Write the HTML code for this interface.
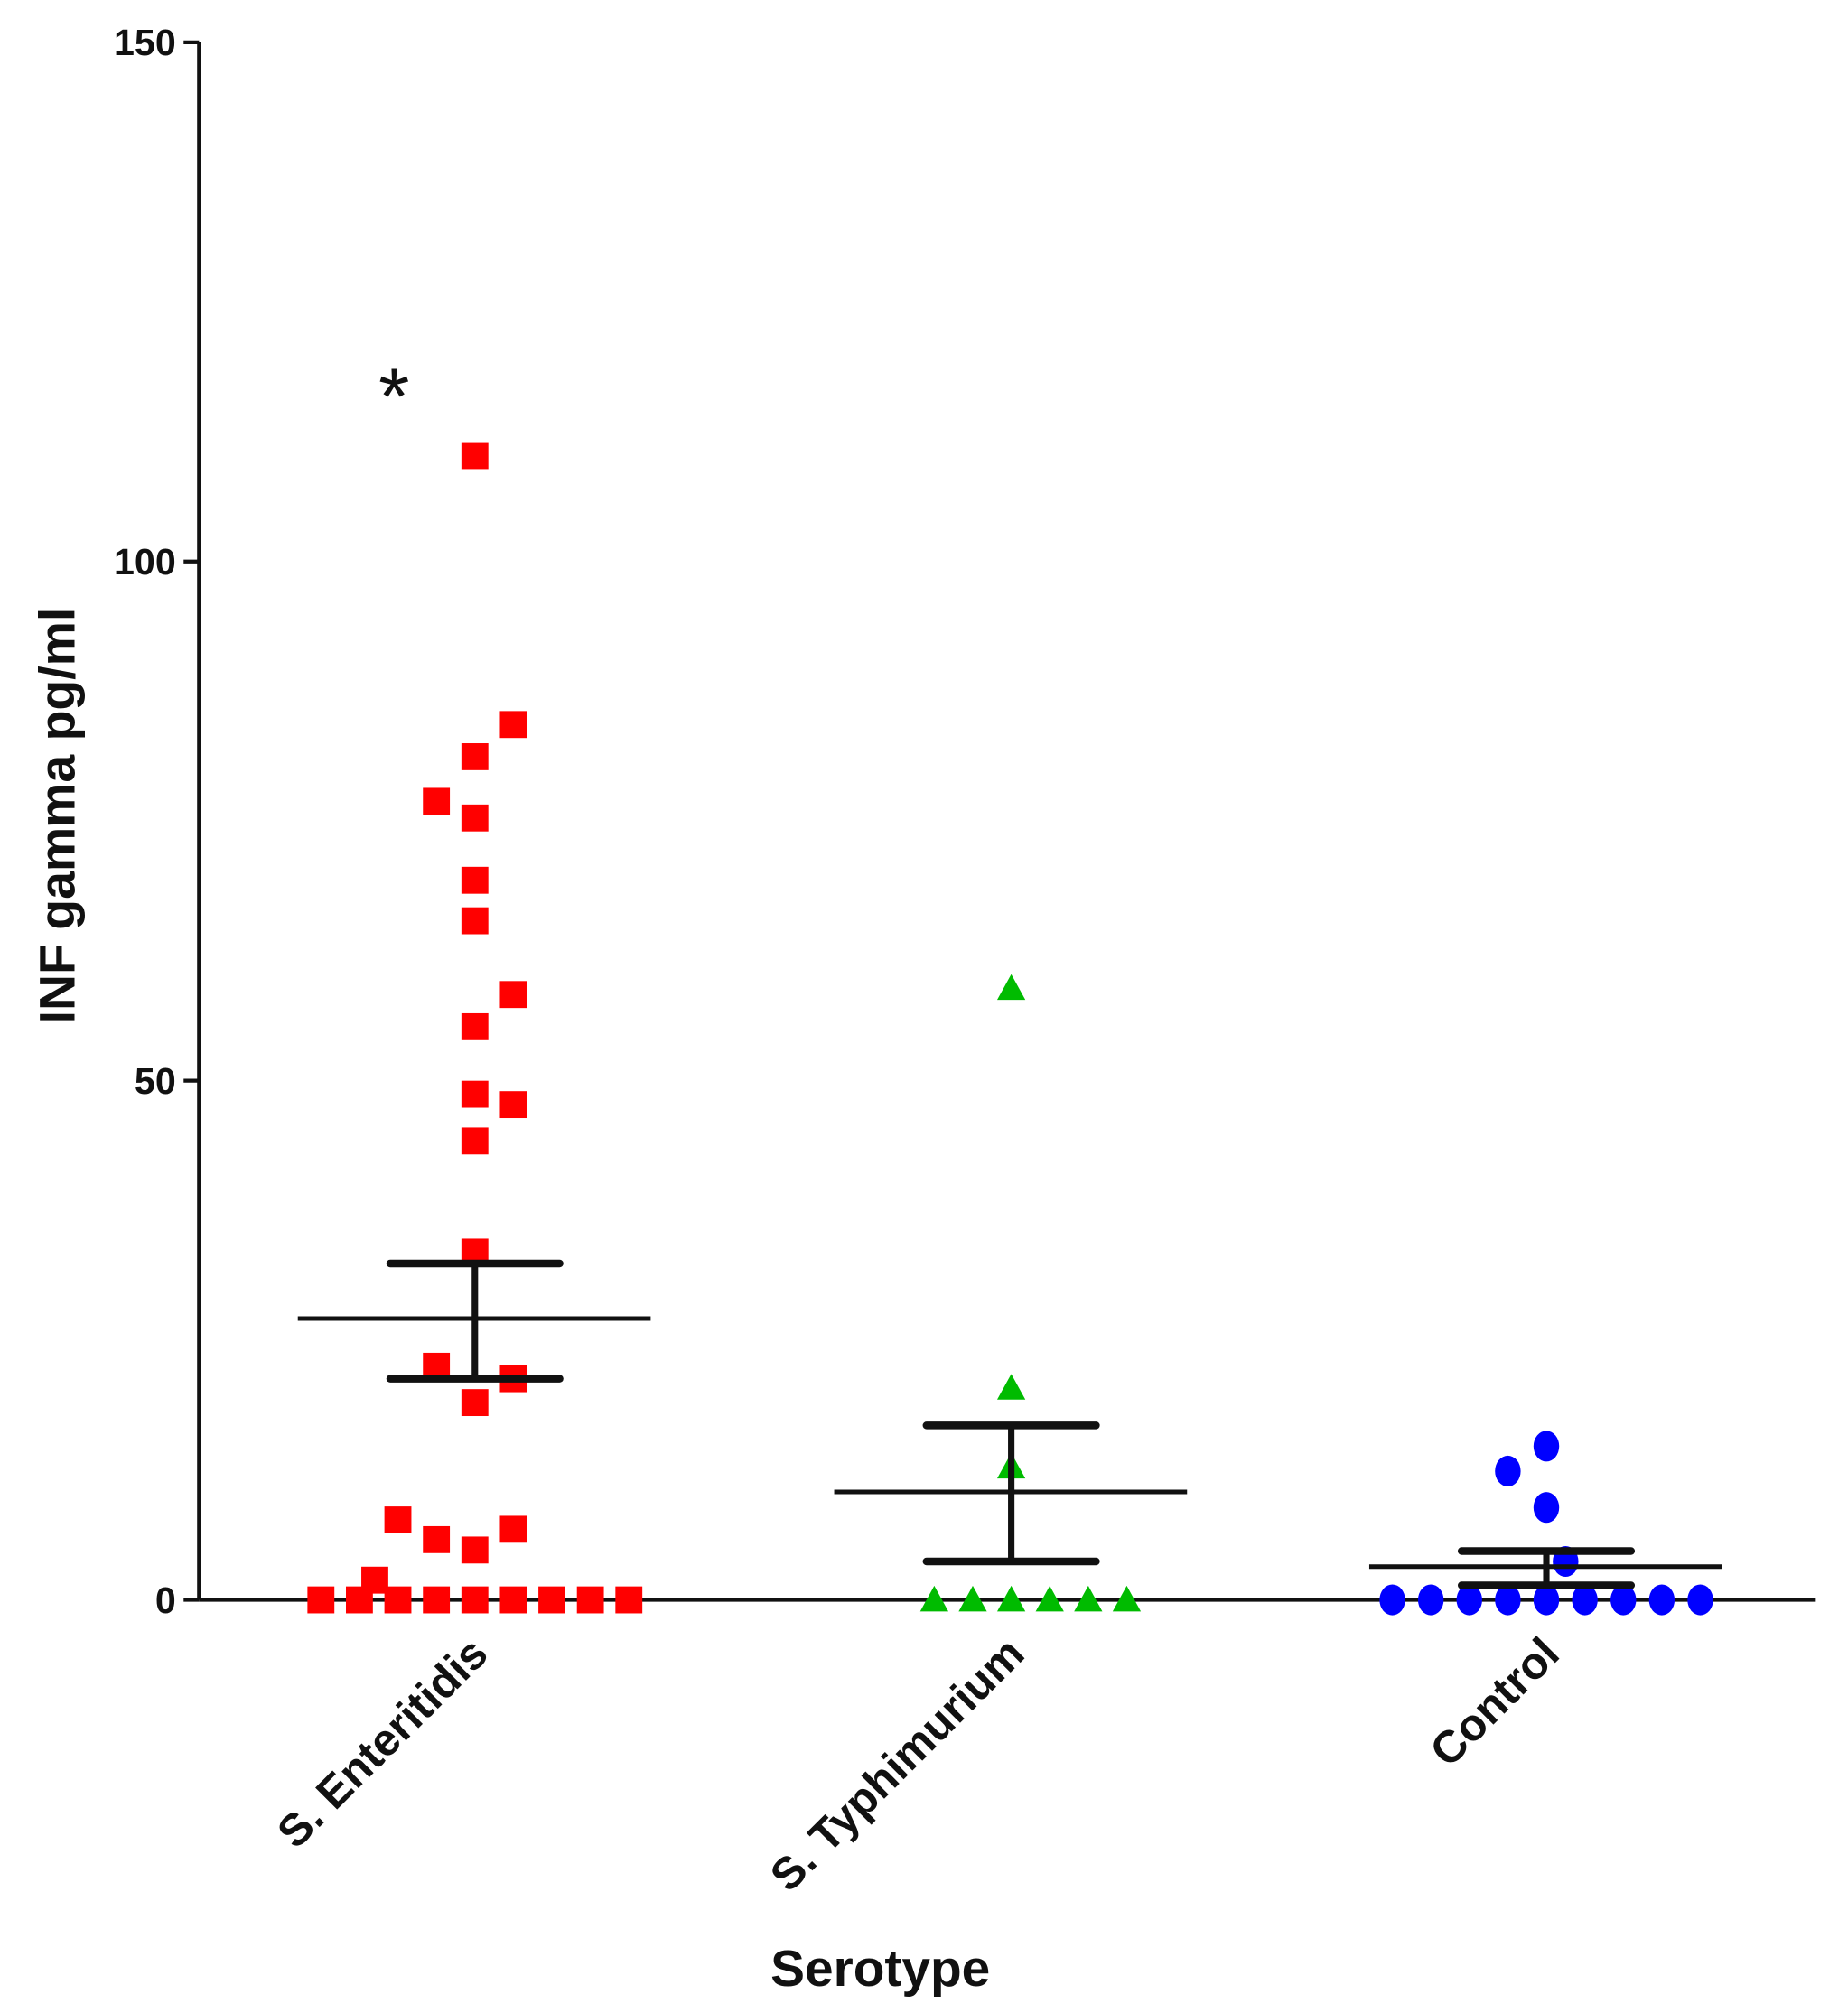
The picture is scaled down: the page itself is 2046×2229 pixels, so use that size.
<!DOCTYPE html>
<html><head><meta charset="utf-8"><style>
html,body{margin:0;padding:0;background:#fff;}
svg{display:block;}
text{font-family:"Liberation Sans",Arial,sans-serif;font-weight:bold;fill:#111;}
</style></head><body>
<svg id="chart" width="2046" height="2229" viewBox="0 0 1440 1569" xmlns="http://www.w3.org/2000/svg">
<g id="axes"></g>
<g id="marks"></g>
<text transform="translate(58,636) rotate(-90)" text-anchor="middle" font-size="39">INF gamma pg/ml</text>
<text x="686" y="1548" text-anchor="middle" font-size="40">Serotype</text>
<text x="307" y="330" text-anchor="middle" font-size="62" style="font-weight:normal">*</text>
</svg>
<script>
const categories = ["S. Enteritidis", "S. Typhimurium", "Control"];
const yTicks = [0, 50, 100, 150];
const entValues = [110.2,84.3,81.2,76.9,75.3,69.3,65.4,58.3,55.2,48.7,47.7,44.2,33.5,22.5,21.3,19.0,7.7,5.8,6.8,4.8,1.9,0,0,0,0,0,0,0,0,0];
const entSlots  = [0,1,0,-1,0,0,0,1,0,0,1,0,0,-1,1,0,-2,-1,1,0,-2.6,-4,-3,-2,-1,0,1,2,3,4];
const typValues = [58.9,20.4,12.8,0,0,0,0,0,0];
const typSlots  = [0,0,0,-2,-1,0,1,2,3];
const conValues = [14.8,12.4,8.9,3.7,0,0,0,0,0,0,0,0,0];
const conSlots  = [0,-1,0,0.5,-4,-3,-2,-1,0,1,2,3,4];
const means = [27.1, 10.4, 3.2];
const semUpper = [32.4, 16.8, 4.7];
const semLower = [21.3, 3.7, 1.4];

const NS="http://www.w3.org/2000/svg";
const X0=155, X1=1415, Y0=1247, Y150=33;
const catX=[370,788,1205];
const slotW=30;
function y(v){return Y0-(v/150)*(Y0-Y150);}
function x(ci,slot){return catX[ci]+slot*slotW;}
function mk(tag,attrs,parent){const e=document.createElementNS(NS,tag);for(const k in attrs)e.setAttribute(k,attrs[k]);parent.appendChild(e);return e;}
const axes=document.getElementById('axes'), marks=document.getElementById('marks');

const ya=mk('line',{x1:X0,y1:y(150),x2:X0,y2:Y0,stroke:'#111','stroke-width':3},axes);


const xa=mk('line',{x1:X0,y1:Y0,x2:X1,y2:Y0,stroke:'#111','stroke-width':3},axes);


yTicks.forEach(t=>{
  const tk=mk('line',{x1:X0-12,y1:y(t),x2:X0,y2:y(t),stroke:'#111','stroke-width':3},axes);
  
  
  const lb=mk('text',{x:X0-18,y:y(t)+10,'text-anchor':'end','font-size':29},axes);
  lb.textContent=t;
  
  
});
categories.forEach((c,i)=>{
  const lb=mk('text',{transform:`translate(${catX[i]+12},${Y0+44}) rotate(-45)`,'text-anchor':'end','font-size':35},axes);
  lb.textContent=c;
  
  
});

const S=21;
entValues.forEach((v,i)=>{
  const r=mk('rect',{x:x(0,entSlots[i])-S/2,y:y(v)-S/2,width:S,height:S,fill:'#f00'},marks);
  
  
});
typValues.forEach((v,i)=>{
  const cx=x(1,typSlots[i]), cy=y(v);
  const p=mk('polygon',{points:`${cx},${cy-11} ${cx+11},${cy+9} ${cx-11},${cy+9}`,fill:'#0b0'},marks);
  
  
});
conValues.forEach((v,i)=>{
  const c=mk('ellipse',{cx:x(2,conSlots[i]),cy:y(v),rx:10,ry:12,fill:'#00f'},marks);
  
  
});
means.forEach((m,i)=>{
  const cx=catX[i];
  const ml=mk('line',{x1:cx-138,y1:y(m),x2:cx+137,y2:y(m),stroke:'#111','stroke-width':3.5},marks);
  
  
  const vl=mk('line',{x1:cx,y1:y(semUpper[i]),x2:cx,y2:y(semLower[i]),stroke:'#111','stroke-width':5},marks);
  
  
  [semUpper[i],semLower[i]].forEach(s=>{
    const cap=mk('line',{x1:cx-66,y1:y(s),x2:cx+66,y2:y(s),stroke:'#111','stroke-width':6,'stroke-linecap':'round'},marks);
    
    
  });
});
</script>
</body></html>
